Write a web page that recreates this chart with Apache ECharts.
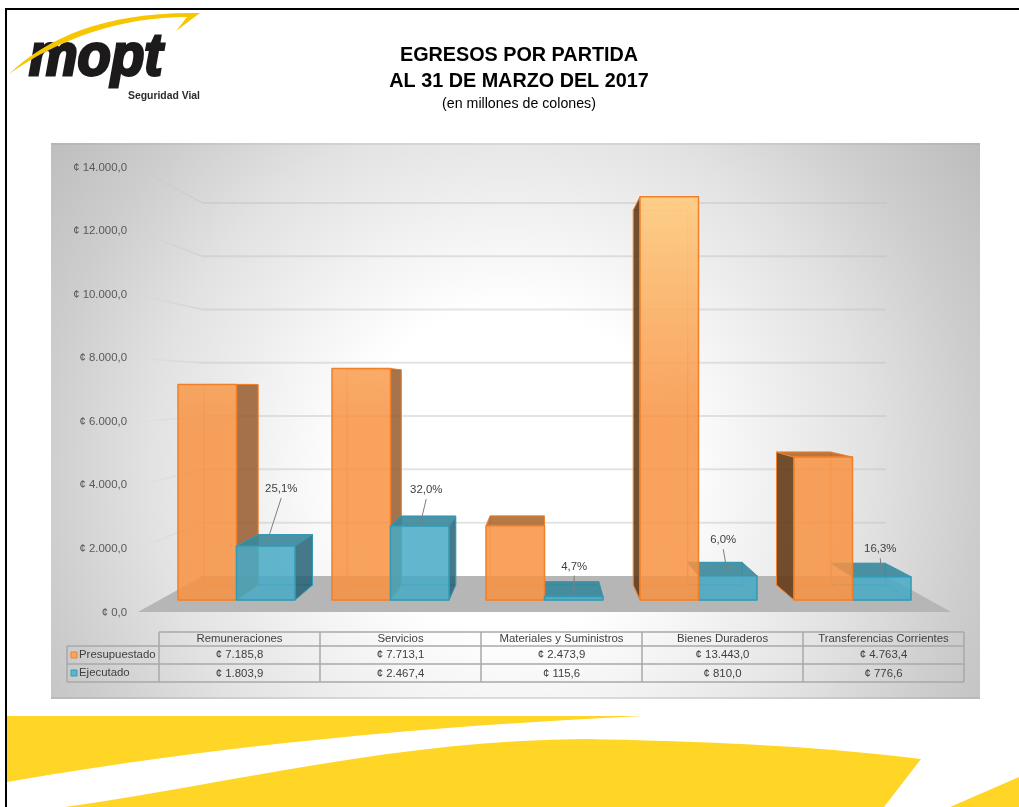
<!DOCTYPE html>
<html>
<head>
<meta charset="utf-8">
<title>Egresos por partida</title>
<script src="https://cdn.jsdelivr.net/npm/echarts@6/dist/echarts.min.js"></script>
<style>
  html, body { margin: 0; padding: 0; background: #fff; }
  #chart { width: 1019px; height: 807px; }
</style>
</head>
<body>
<div id="chart"></div>
<script>
const categories = ["Remuneraciones", "Servicios", "Materiales y Suministros", "Bienes Duraderos", "Transferencias Corrientes"];
const presupuestado = [7185.8, 7713.1, 2473.9, 13443.0, 4763.4];
const ejecutado = [1803.9, 2467.4, 115.6, 810.0, 776.6];
const porcentajes = ["25,1%", "32,0%", "4,7%", "6,0%", "16,3%"];
const yTicks = [0, 2000, 4000, 6000, 8000, 10000, 12000, 14000];

// label position relative to the top of each blue bar
const labelOffsets = [[15.5, -57], [6.5, -36], [0.5, -30], [-4.5, -35.5], [-1.5, -27.5]];

const FONT = '"Liberation Sans", Arial, sans-serif';

// perspective of the 3D box: depth k scales around the vanishing point
const VX = 544.5, VY = 385;
const K_BAR_BACK = 0.93, K_WALL = 0.888, K_FLOOR_FRONT = 1.056;
const BAR_RATIO = 0.38;

function project(x, y, k) {
  return [VX + k * (x - VX), VY + k * (y - VY)];
}

function formatColones(v) {
  const parts = v.toFixed(1).split(".");
  return "¢ " + parts[0].replace(/\B(?=(\d{3})+$)/g, ".") + "," + parts[1];
}

const orangeLook = {
  front: new echarts.graphic.LinearGradient(0, 194, 0, 420, [
    { offset: 0, color: "rgba(255,205,130,0.92)" },
    { offset: 1, color: "rgba(247,146,66,0.85)" }
  ], true),
  left: "rgba(100,60,25,0.9)",
  right: "rgba(150,90,45,0.85)",
  top: "rgba(170,100,40,0.85)",
  edge: "#F2802A",
  inner: "rgba(250,150,70,0.8)",
  hasLeft: true
};
const blueLook = {
  front: "rgba(70,170,198,0.85)",
  left: null,
  right: "rgba(38,97,117,0.85)",
  top: "rgba(55,135,155,0.9)",
  edge: "#339AB5",
  inner: "rgba(60,150,175,0.7)",
  hasLeft: false
};

function barRenderer(look, side) {
  return function (params, api) {
    const i = api.value(0);
    const band = api.size([1, 0])[0];
    const w = band * BAR_RATIO;
    const cx = api.coord([i, 0])[0];
    const y0 = api.coord([i, 0])[1];
    const y1 = api.coord([i, api.value(1)])[1];
    const l = side < 0 ? cx - w : cx;
    const r = l + w;

    const fbl = [l, y0], fbr = [r, y0], ftl = [l, y1], ftr = [r, y1];
    const bbl = project(l, y0, K_BAR_BACK), bbr = project(r, y0, K_BAR_BACK);
    const btl = project(l, y1, K_BAR_BACK), btr = project(r, y1, K_BAR_BACK);

    // bars further from the vanishing point are painted first
    const base = Math.round(1000 - Math.abs((l + r) / 2 - VX)) * 10;
    const poly = (pts, fill, stroke, lw, order) => ({
      type: "polygon",
      shape: { points: pts },
      style: { fill: fill || "transparent", stroke: stroke || null, lineWidth: lw || 0, lineJoin: "round" },
      z2: base + order,
      silent: true
    });

    const children = [];
    children.push(poly([bbl, bbr, btr, btl], null, look.inner, 1, 0));
    children.push(poly([fbl, fbr, bbr, bbl], null, look.inner, 1, 1));
    if (r < VX) children.push(poly([fbr, bbr, btr, ftr], look.right, look.edge, 1, 2));
    if (l > VX && look.hasLeft) children.push(poly([fbl, bbl, btl, ftl], look.left, look.edge, 1, 2));
    if (y1 > VY) children.push(poly([ftl, ftr, btr, btl], look.top, look.edge, 1, 3));
    children.push(poly([fbl, fbr, ftr, ftl], look.front, look.edge, 1.5, 4));

    return { type: "group", children: children };
  };
}

function labelRenderer(params, api) {
  const i = api.value(0);
  const band = api.size([1, 0])[0];
  const anchor = api.coord([i, api.value(1)]);
  const ax = anchor[0] + band * BAR_RATIO / 2;
  const off = labelOffsets[i];
  const tx = ax + off[0], ty = anchor[1] + off[1];
  return {
    type: "group",
    children: [
      {
        type: "line",
        shape: { x1: tx, y1: ty + 9, x2: ax, y2: anchor[1] },
        style: { stroke: "#7F7F7F", lineWidth: 1 },
        z2: 20000,
        silent: true
      },
      {
        type: "text",
        x: tx,
        y: ty,
        style: { text: porcentajes[i], fill: "#404040", font: "11.4px " + FONT, align: "center", verticalAlign: "middle" },
        z2: 20001,
        silent: true
      }
    ]
  };
}

function wallRenderer(params, api) {
  const y = api.coord([0, api.value(1)])[1];
  const left = params.coordSys.x, right = left + params.coordSys.width;
  const a = project(left, y, K_FLOOR_FRONT), b = project(left, y, K_WALL), c = project(right, y, K_WALL);
  return {
    type: "group",
    children: [
      {
        type: "line",
        shape: { x1: a[0], y1: a[1], x2: b[0], y2: b[1] },
        style: {
          lineWidth: 1.5,
          stroke: new echarts.graphic.LinearGradient(a[0], 0, b[0], 0, [
            { offset: 0, color: "rgba(190,190,190,0)" },
            { offset: 1, color: "rgba(190,190,190,0.4)" }
          ], true)
        },
        silent: true
      },
      {
        type: "line",
        shape: { x1: b[0], y1: b[1], x2: c[0], y2: c[1] },
        style: { stroke: "rgba(190,190,190,0.42)", lineWidth: 2 },
        silent: true
      }
    ]
  };
}

function floorRenderer(params, api) {
  const y = api.coord([0, 0])[1];
  const left = params.coordSys.x, right = left + params.coordSys.width;
  return {
    type: "polygon",
    shape: {
      points: [
        project(left, y, K_WALL), project(right, y, K_WALL),
        project(right, y, K_FLOOR_FRONT), project(left, y, K_FLOOR_FRONT)
      ]
    },
    style: { fill: "#B6B6B6" },
    silent: true
  };
}

// yellow artwork, drawn as paths because the graphic component has no path type
function artRenderer() {
  const yellow = "#FFD526";
  const path = (d, fill) => ({ type: "path", shape: { pathData: d }, style: { fill: fill }, silent: true });
  return {
    type: "group",
    children: [
      path("M9 74 C48 36 110 11 200 13 L176 31 L187 17 C122 17 60 38 9 74 Z", "#F7C600"),
      path("M7 716 L643 716 C430 726 220 745 7 782 Z", yellow),
      path("M65 807 C240 782 400 740 585 739 C690 741 810 745 921 759 L884 807 Z", yellow),
      path("M1019 777 L950 807 L1019 807 Z", yellow)
    ]
  };
}

// data table under the chart
function tableElements() {
  const els = [];
  const rowY = [632, 646, 664, 682];
  const colX = [159, 320, 481, 642, 803, 964];
  const legendX = 67;
  const lineColor = "#A8A8A8";
  const hLine = (x1, x2, y) => ({ type: "line", shape: { x1: x1, y1: y, x2: x2, y2: y }, style: { stroke: lineColor, lineWidth: 1.5 } });
  const vLine = (x, y1, y2) => ({ type: "line", shape: { x1: x, y1: y1, x2: x, y2: y2 }, style: { stroke: lineColor, lineWidth: 1.5 } });
  const cell = (text, x, y, align) => ({
    type: "text", x: x, y: y,
    style: { text: text, fill: "#404040", font: "11.4px " + FONT, align: align || "center", verticalAlign: "middle" }
  });

  els.push(hLine(colX[0], colX[5], rowY[0]));
  els.push(hLine(legendX, colX[5], rowY[1]));
  els.push(hLine(legendX, colX[5], rowY[2]));
  els.push(hLine(legendX, colX[5], rowY[3]));
  els.push(vLine(legendX, rowY[1], rowY[3]));
  colX.forEach((x) => els.push(vLine(x, rowY[0], rowY[3])));

  categories.forEach((name, i) => {
    const mid = (colX[i] + colX[i + 1]) / 2;
    els.push(cell(name, mid, (rowY[0] + rowY[1]) / 2));
    els.push(cell(formatColones(presupuestado[i]), mid, (rowY[1] + rowY[2]) / 2));
    els.push(cell(formatColones(ejecutado[i]), mid, (rowY[2] + rowY[3]) / 2 + 0.5));
  });

  els.push({ type: "rect", shape: { x: 71, y: 652, width: 6, height: 6 }, style: { fill: "#F9A662", stroke: "#F2802A", lineWidth: 1 } });
  els.push(cell("Presupuestado", 79, (rowY[1] + rowY[2]) / 2, "left"));
  els.push({ type: "rect", shape: { x: 71, y: 670, width: 6, height: 6 }, style: { fill: "#5FB4CE", stroke: "#339AB5", lineWidth: 1 } });
  els.push(cell("Ejecutado", 79, (rowY[2] + rowY[3]) / 2, "left"));
  return els;
}

const chart = echarts.init(document.getElementById("chart"), null, { renderer: "canvas" });

chart.setOption({
  animation: false,
  backgroundColor: "#ffffff",
  textStyle: { fontFamily: FONT },
  grid: [
    // plane of the bar fronts
    { left: 159.5, width: 770, top: 180, height: 420 },
    // plane of the tick labels, in front of the floor
    { left: 128, width: 10, top: 167.5, height: 445 }
  ],
  xAxis: [
    { type: "category", gridIndex: 0, data: categories, show: false },
    { type: "value", gridIndex: 1, show: false, min: 0, max: 1 }
  ],
  yAxis: [
    { type: "value", gridIndex: 0, min: 0, max: 14000, interval: 2000, show: false },
    {
      type: "value",
      gridIndex: 1,
      min: 0,
      max: 14000,
      interval: 2000,
      axisLine: { show: false },
      axisTick: { show: false },
      splitLine: { show: false },
      axisLabel: {
        margin: 1,
        color: "#595959",
        fontSize: 11.4,
        fontFamily: FONT,
        formatter: (v) => formatColones(v)
      }
    }
  ],
  graphic: [
    // grey panel behind the chart
    {
      type: "rect",
      z: -2,
      shape: { x: 51, y: 143, width: 929, height: 556 },
      style: {
        fill: new echarts.graphic.RadialGradient(510, 470, 600, [
          { offset: 0, color: "#FFFFFF" },
          { offset: 0.27, color: "#FFFFFF" },
          { offset: 0.6, color: "#E2E2E2" },
          { offset: 0.78, color: "#CDCDCD" },
          { offset: 1, color: "#B8B8B8" }
        ], true)
      }
    },
    { type: "line", z: -1, shape: { x1: 51, y1: 698, x2: 980, y2: 698 }, style: { stroke: "rgba(150,150,150,0.35)", lineWidth: 1.5 } },
    { type: "line", z: -1, shape: { x1: 51, y1: 144, x2: 980, y2: 144 }, style: { stroke: "rgba(150,150,150,0.25)", lineWidth: 1.5 } },

    // page frame
    { type: "rect", shape: { x: 5, y: 8, width: 1014, height: 2 }, style: { fill: "#000" } },
    { type: "rect", shape: { x: 5, y: 8, width: 2, height: 799 }, style: { fill: "#000" } },

    // titles
    { type: "text", x: 519, y: 56, style: { text: "EGRESOS POR PARTIDA", fill: "#000", font: "bold 19.8px " + FONT, align: "center", verticalAlign: "middle" } },
    { type: "text", x: 519, y: 82, style: { text: "AL 31 DE MARZO DEL 2017", fill: "#000", font: "bold 19.8px " + FONT, align: "center", verticalAlign: "middle" } },
    { type: "text", x: 519, y: 104, style: { text: "(en millones de colones)", fill: "#000", font: "14.2px " + FONT, align: "center", verticalAlign: "middle" } },

    // logo
    {
      type: "text", x: 29, y: 28, scaleX: 0.91,
      style: { text: "mopt", fill: "#1C1A1B", stroke: "#1C1A1B", lineWidth: 3, font: "italic bold 60px " + FONT, align: "left", verticalAlign: "top" }
    },
    { type: "text", x: 128, y: 96, style: { text: "Seguridad Vial", fill: "#2B2B2B", font: "bold 10.4px " + FONT, align: "left", verticalAlign: "middle" } }
  ].concat(tableElements()),
  series: [
    {
      type: "custom",
      name: "Arte",
      coordinateSystem: "none",
      z: 1,
      silent: true,
      renderItem: artRenderer,
      data: [[0]]
    },
    {
      type: "custom",
      name: "Piso",
      z: 1,
      silent: true,
      renderItem: floorRenderer,
      data: [[0, 0]]
    },
    {
      type: "custom",
      name: "Rejilla",
      z: 1,
      silent: true,
      renderItem: wallRenderer,
      data: yTicks.filter((t) => t > 0).map((t) => [0, t])
    },
    {
      type: "custom",
      name: "Presupuestado",
      z: 2,
      silent: true,
      renderItem: barRenderer(orangeLook, -1),
      data: presupuestado.map((v, i) => [i, v])
    },
    {
      type: "custom",
      name: "Ejecutado",
      z: 2,
      silent: true,
      renderItem: barRenderer(blueLook, 1),
      data: ejecutado.map((v, i) => [i, v])
    },
    {
      type: "custom",
      name: "Porcentaje",
      z: 3,
      silent: true,
      renderItem: labelRenderer,
      data: ejecutado.map((v, i) => [i, v])
    }
  ]
});
</script>
</body>
</html>
